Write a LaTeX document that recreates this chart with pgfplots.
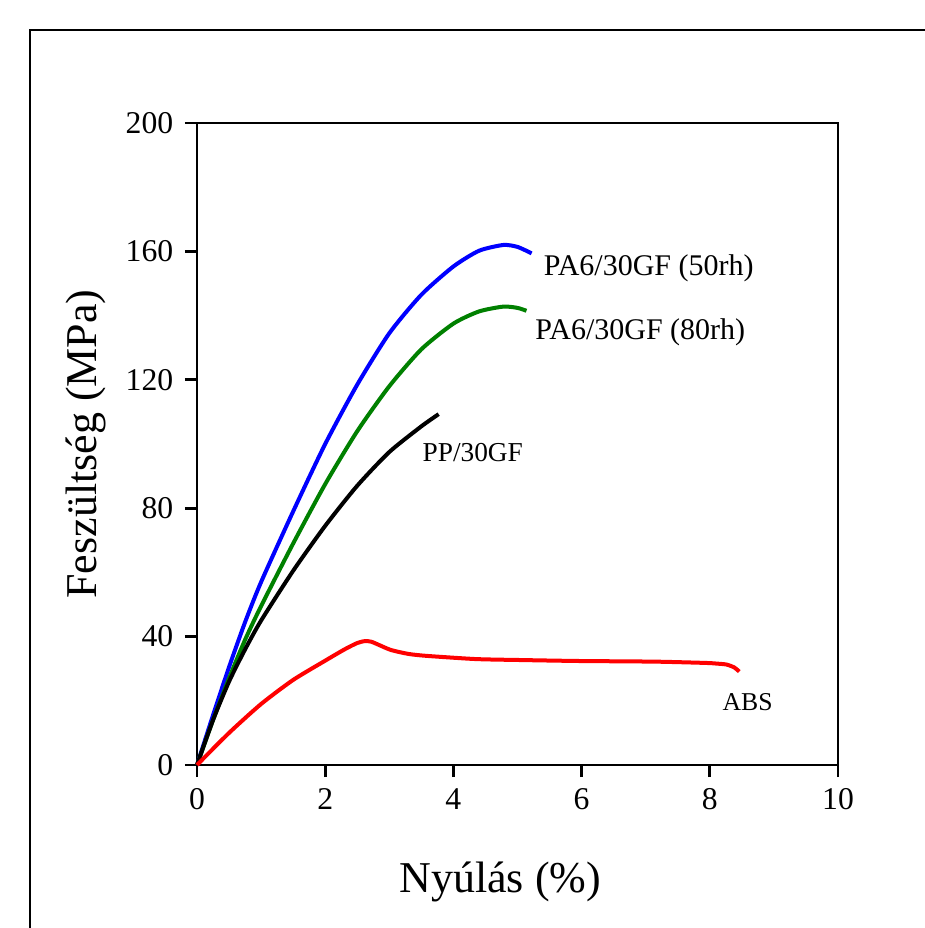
\documentclass[border=0pt]{standalone}
\usepackage{fontspec}
\setmainfont{Liberation Serif}
\usepackage{pgfplots}
\pgfplotsset{compat=1.18}

\definecolor{cgreen}{RGB}{0,128,0}

\begin{document}
\begin{tikzpicture}
% page = 925x928 px, 1 px = 0.3pt, axis origin at px (197,765)
\useasboundingbox (-59.1pt,-48.9pt) rectangle (218.4pt,229.5pt);
\draw[line width=0.8pt] (-50.1pt,-48.9pt) -- (-50.1pt,220.5pt) -- (218.4pt,220.5pt);
\begin{axis}[
  scale only axis,
  width=192.3pt, height=192.6pt,
  xmin=0, xmax=10, ymin=0, ymax=200,
  xtick={0,2,...,10}, ytick={0,40,...,200},
  tick align=outside, xtick pos=bottom, ytick pos=left,
  major tick length=3.6pt,
  axis line style={line width=0.8pt},
  every tick/.style={line width=0.8pt,black},
  /pgf/number format/assume math mode=true,
  ticklabel style={font=\fontsize{9.5}{11}\selectfont},
  xlabel={Nyúlás (\%)}, ylabel={Feszültség (MPa)},
  label style={font=\fontsize{13.2}{15}\selectfont},
  xlabel style={at={(axis description cs:0.473,-0.198)},anchor=base},
  ylabel style={at={(axis description cs:-0.173,0.5)},anchor=center},
  every axis plot/.append style={line width=1.2pt, smooth, tension=0.4},
  clip=false,
]
% PA6/30GF (50rh)
\addplot[blue] coordinates {
 (0,0) (0.25,15.5) (0.5,30.5) (0.75,44.5) (1,57) (1.5,79) (2,100)
 (2.5,118.5) (3,134.5) (3.5,146.5) (4,155.3) (4.4,160.2) (4.78,162.0)
 (5.0,161.4) (5.22,159.4)};
% PA6/30GF (80rh)
\addplot[cgreen] coordinates {
 (0,0) (0.25,14) (0.5,27) (0.75,39) (1,49.5) (1.5,69) (2,87.5) (2.5,104)
 (3,118) (3.5,129.5) (4,137.5) (4.4,141.3) (4.78,142.8) (5.0,142.4)
 (5.14,141.5)};
% PP/30GF
\addplot[black] coordinates {
 (0,0) (0.25,14) (0.5,26) (0.75,36) (1,45) (1.5,60.5) (2,74.5) (2.5,87)
 (3,97.5) (3.5,105.5) (3.77,109.3)};
% ABS
\addplot[red] coordinates {
 (0,0) (0.5,10) (1,19) (1.5,26.5) (2,32.5) (2.3,36) (2.5,38) (2.62,38.6)
 (2.72,38.4) (2.85,37.3) (3.03,35.8) (3.3,34.6) (3.58,34.0) (4.35,33.0)
 (5.05,32.7) (5.95,32.4) (7.14,32.2) (7.93,31.8) (8.1,31.6) (8.26,31.3)
 (8.38,30.4) (8.46,29.1)};

\node[anchor=west,inner sep=0pt,font=\fontsize{9}{10}\selectfont] at (axis cs:5.40,154.8) {PA6/30GF (50rh)};
\node[anchor=west,inner sep=0pt,font=\fontsize{9}{10}\selectfont] at (axis cs:5.27,134.9) {PA6/30GF (80rh)};
\node[anchor=west,inner sep=0pt,font=\fontsize{8.2}{10}\selectfont] at (axis cs:3.51,97.2) {PP/30GF};
\node[anchor=west,inner sep=0pt,font=\fontsize{7.7}{9}\selectfont] at (axis cs:8.19,19.6) {ABS};
\end{axis}
\end{tikzpicture}
\end{document}
